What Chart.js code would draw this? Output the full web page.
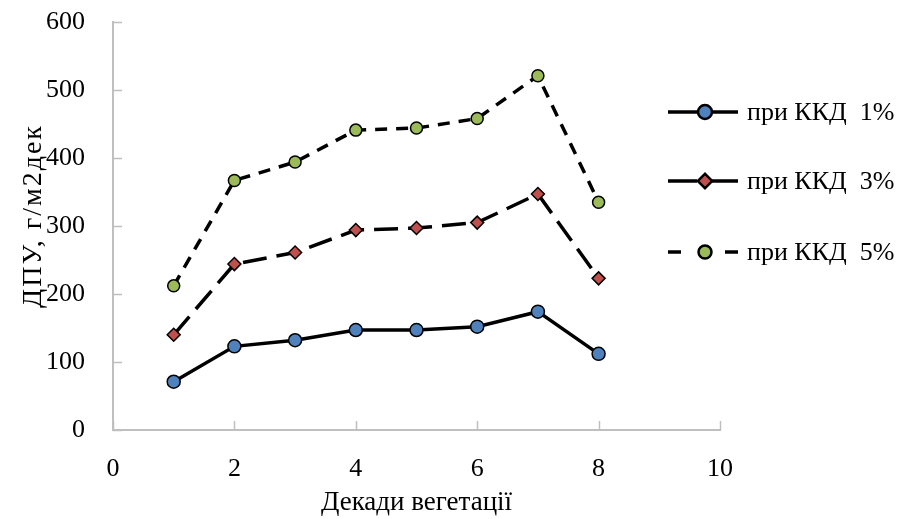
<!DOCTYPE html>
<html>
<head>
<meta charset="utf-8">
<script src="https://cdn.jsdelivr.net/npm/chart.js@4.4.1/dist/chart.umd.min.js"></script>
<style>
  html, body { margin: 0; padding: 0; background: #fff; }
  #wrap { width: 904px; height: 519px; position: relative; }
</style>
</head>
<body>
<div id="wrap"><canvas id="myChart"></canvas></div>
<script>
const decades = [1, 2, 3, 4, 5, 6, 7, 8]
const kkd1 = [71, 123, 132, 147, 147, 152, 174, 112]
const kkd3 = [140, 244, 261, 294, 297, 305, 347, 223]
const kkd5 = [212, 367, 394, 441, 444, 458, 521, 335]
const seriesNames = ['при ККД  1%', 'при ККД  3%', 'при ККД  5%']
const xTitle = 'Декади вегетації'
const yTitle = 'ДПУ, г/м2дек'

const FONT = '"Liberation Serif", "Times New Roman", serif'
const AXIS = '#bfbfbf'

const toPoints = arr => arr.map((v, i) => ({ x: decades[i], y: v }))

// small tick marks pointing into the plot, like the original
const innerTicks = {
  id: 'innerTicks',
  afterDraw(chart) {
    const { ctx, chartArea: a, scales: { x, y } } = chart
    ctx.save()
    ctx.strokeStyle = AXIS
    ctx.lineWidth = 1.5
    ctx.beginPath()
    y.ticks.forEach(t => {
      const py = Math.round(y.getPixelForValue(t.value)) + 0.5
      ctx.moveTo(a.left, py)
      ctx.lineTo(a.left + 9, py)
    })
    x.ticks.forEach(t => {
      const px = Math.round(x.getPixelForValue(t.value)) + 0.5
      ctx.moveTo(px, a.bottom)
      ctx.lineTo(px, a.bottom - 9)
    })
    ctx.stroke()
    ctx.restore()
  }
}

// rotated y title, drawn by hand so the letters can be spread a little
const yTitlePlugin = {
  id: 'yTitlePlugin',
  afterDraw(chart) {
    const { ctx } = chart
    ctx.save()
    ctx.translate(34, 216)
    ctx.rotate(-Math.PI / 2)
    ctx.font = '28px ' + FONT
    ctx.letterSpacing = '2px'
    ctx.fillStyle = '#000'
    ctx.textAlign = 'center'
    ctx.textBaseline = 'middle'
    ctx.fillText(yTitle, 0, 0)
    ctx.restore()
  }
}

// legend: line sample with marker in the middle, text to the right
const sideLegend = {
  id: 'sideLegend',
  afterDraw(chart) {
    const { ctx } = chart
    const x0 = 668, x1 = 738, tx = 747
    const rows = [112, 181, 252]
    // gaps in the sample line around each marker [leftEnd, rightStart]
    const segs = [[705, 705], [697, 712], [681, 725]]
    ctx.save()
    chart.data.datasets.forEach((ds, i) => {
      const yy = rows[i]
      ctx.strokeStyle = '#000'
      ctx.lineWidth = 3.5
      ctx.beginPath()
      ctx.moveTo(x0, yy); ctx.lineTo(segs[i][0], yy)
      ctx.moveTo(segs[i][1], yy); ctx.lineTo(x1, yy)
      ctx.stroke()
      Chart.helpers.drawPoint(ctx, {
        pointStyle: ds.pointStyle,
        radius: ds.pointRadius,
        borderWidth: ds.pointBorderWidth
      }, 705, yy)
      ctx.fillStyle = ds.pointBackgroundColor
      ctx.strokeStyle = '#000'
      ctx.lineWidth = ds.pointBorderWidth
      ctx.fill()
      ctx.stroke()
      ctx.fillStyle = '#000'
      ctx.font = '26px ' + FONT
      ctx.textBaseline = 'middle'
      ctx.textAlign = 'left'
      ctx.fillText(seriesNames[i], tx, yy + 1)
    })
    ctx.restore()
  }
}

const common = {
  borderColor: '#000',
  borderWidth: 3.5,
  pointBorderColor: '#000',
  pointBorderWidth: 1.5,
  showLine: true,
  tension: 0
}

new Chart(document.getElementById('myChart'), {
  type: 'scatter',
  data: {
    datasets: [
      Object.assign({}, common, {
        label: seriesNames[0],
        data: toPoints(kkd1),
        pointStyle: 'circle',
        pointRadius: 6.5,
        pointBackgroundColor: '#4f81bd'
      }),
      Object.assign({}, common, {
        label: seriesNames[1],
        data: toPoints(kkd3),
        borderDash: [24, 10],
        pointStyle: 'rectRot',
        pointRadius: 6.5,
        pointBackgroundColor: '#c0504d'
      }),
      Object.assign({}, common, {
        label: seriesNames[2],
        data: toPoints(kkd5),
        borderDash: [12, 9],
        pointStyle: 'circle',
        pointRadius: 6,
        pointBackgroundColor: '#9bbb59'
      })
    ]
  },
  options: {
    responsive: true,
    maintainAspectRatio: false,
    animation: false,
    layout: { padding: { top: 22, right: 184, left: 0, bottom: 0 } },
    plugins: {
      legend: { display: false },
      tooltip: { enabled: false }
    },
    scales: {
      x: {
        type: 'linear',
        min: 0,
        max: 10,
        afterFit: s => { s.height = 89; s.paddingLeft = 0; s.paddingRight = 0 },
        ticks: { stepSize: 2, color: '#000', padding: 16, font: { family: FONT, size: 26 } },
        grid: { display: false },
        border: { display: true, color: AXIS, width: 2 },
        title: { display: true, text: xTitle, color: '#000', padding: { top: 0, bottom: 0 }, font: { family: FONT, size: 27 } }
      },
      y: {
        min: 0,
        max: 600,
        afterFit: s => { s.width = 113; s.paddingTop = 0; s.paddingBottom = 0 },
        ticks: { stepSize: 100, color: '#000', padding: 20, font: { family: FONT, size: 26 } },
        grid: { display: false },
        border: { display: true, color: AXIS, width: 2 }
      }
    }
  },
  plugins: [innerTicks, yTitlePlugin, sideLegend]
})
</script>
</body>
</html>
